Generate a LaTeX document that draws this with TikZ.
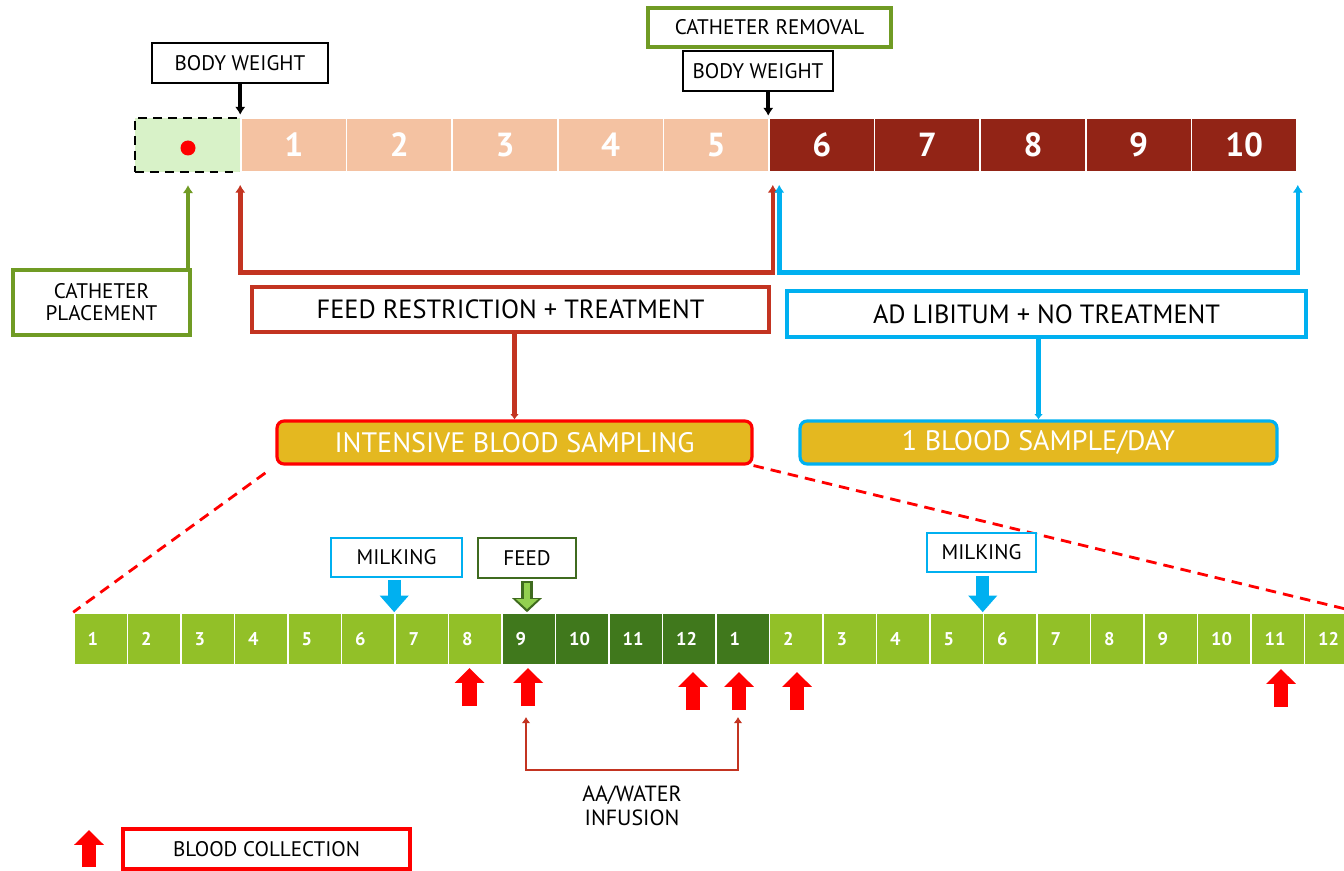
\documentclass[tikz,border=0pt]{standalone}
\usepackage{fontspec}
\setmainfont{PT Sans}
\usetikzlibrary{arrows.meta,positioning,calc}
\definecolor{peach}{RGB}{244,194,162}
\definecolor{maroon}{RGB}{146,36,22}
\definecolor{palegreen}{RGB}{216,242,200}
\definecolor{olive}{RGB}{112,155,36}
\definecolor{rust}{RGB}{195,52,33}
\definecolor{sky}{RGB}{0,176,240}
\definecolor{gold}{RGB}{228,184,32}
\definecolor{leaf}{RGB}{146,192,40}
\definecolor{forest}{RGB}{64,120,28}
\definecolor{feedgreen}{RGB}{146,208,80}
\definecolor{feededge}{RGB}{63,107,31}
\tikzset{
  cel/.style={draw=white,line width=0.9pt,minimum width=2.112cm,minimum height=1.08cm,
    inner sep=0,text=white,font=\fontsize{19}{19}\selectfont\bfseries},
  hr/.style={draw=white,line width=0.9pt,minimum width=1.07cm,minimum height=1.04cm,inner sep=0},
  num/.style={anchor=west,inner sep=0,text=white,font=\fontsize{10.5}{10.5}\selectfont\bfseries},
  lab/.style={draw,fill=white,inner sep=0,align=center,font=\fontsize{12}{12.5}\selectfont},
  big/.style={lab,line width=2.3pt,font=\fontsize{15}{17}\selectfont},
  samp/.style={draw,fill=gold,rounded corners=4pt,line width=1.8pt,inner sep=0,
    text=white,font=\fontsize{16}{18}\selectfont},
  brk/.style={line width=2.6pt,{Latex[length=4.5pt,width=6pt]}-{Latex[length=4.5pt,width=6pt]}},
  tip/.style={-{Latex[length=4.5pt,width=6pt]}},
  blk/.style={line width=8.5pt,-{Triangle[width=16.5pt,length=8.5pt]}},
  milkarr/.style={sky,line width=7.5pt,-{Triangle[width=16pt,length=9.5pt]}},
}
\begin{document}
\begin{tikzpicture}[x=0.02cm,y=-0.02cm]
  \useasboundingbox (0,0) rectangle (1344,871);
  \clip (0,0) rectangle (1344,871);
  % top timeline
  \node[draw,fill=palegreen,line width=1.3pt,dash pattern=on 5pt off 3.5pt,
    minimum width=2.12cm,minimum height=1.08cm] (t0) at (188,145) {};
  \node[circle,fill=red,inner sep=0,minimum size=0.3cm] (dot) at (188,148) {};
  \foreach \i in {1,...,5}
    \node[cel,fill=peach] (t\i) at ({241+(\i-0.5)*105.6},145) {\i};
  \foreach \i in {6,...,10}
    \node[cel,fill=maroon] (t\i) at ({241+(\i-0.5)*105.6},145) {\i};
  % labels above
  \node[lab,line width=1.5pt,minimum width=3.52cm,minimum height=0.8cm] (bw1) at (240,63) {BODY WEIGHT};
  \node[lab,draw=olive,line width=2pt,minimum width=4.86cm,minimum height=0.78cm] (crem) at (769.5,27.5) {CATHETER REMOVAL};
  \node[lab,line width=1.5pt,minimum width=3cm,minimum height=0.8cm] (bw2) at (758,71) {BODY WEIGHT};
  \draw[line width=2pt,tip] (t1.north west |- bw1.south) -- ([yshift=0.05cm]t1.north west);
  \draw[line width=2pt,tip] (t6.north west |- bw2.south) -- ([yshift=0.03cm]t6.north west);
  % periods
  \node[lab,draw=olive,line width=2pt,minimum width=3.54cm,minimum height=1.3cm] (cplace) at (101.5,302.5) {CATHETER\\PLACEMENT};
  \node[big,draw=rust,minimum width=10.34cm,minimum height=0.9cm] (feedr) at (510.5,309.5) {FEED RESTRICTION + TREATMENT};
  \node[big,draw=sky,minimum width=10.38cm,minimum height=0.92cm] (adlib) at (1046.5,314) {AD LIBITUM + NO TREATMENT};
  \coordinate (cp) at ([yshift=-0.24cm]t0.south);
  \coordinate (fr-a) at ([yshift=-0.24cm]t1.south west);
  \coordinate (fr-b) at ([yshift=-0.24cm,xshift=0.06cm]t5.south east);
  \coordinate (ad-a) at ([yshift=-0.24cm,xshift=0.22cm]t6.south west);
  \coordinate (ad-b) at ([yshift=-0.24cm]t10.south east);
  \draw[olive,line width=2.6pt,tip] (cplace.north -| cp) -- (cp);
  \draw[brk,rust] (fr-a) -- ++(0,88) -| (fr-b);
  \draw[brk,sky] (ad-a) -- ++(0,88) -| (ad-b);
  % sampling
  \node[samp,draw=red,minimum width=9.5cm,minimum height=0.86cm] (intens) at (514.5,442.5) {INTENSIVE BLOOD SAMPLING};
  \node[samp,draw=sky,minimum width=9.54cm,minimum height=0.86cm] (oneday) at (1038.5,442.5) {1 BLOOD SAMPLE/DAY};
  \draw[rust,line width=2.6pt,-{Latex[length=3pt,width=5pt]}] (intens.north |- feedr.south) -- (intens.north);
  \draw[sky,line width=2.6pt,-{Latex[length=3pt,width=5pt]}] (oneday.north |- adlib.south) -- (oneday.north);
  % hourly timeline
  \foreach \i in {1,...,24}{
    \pgfmathtruncatemacro{\h}{mod(\i-1,12)+1}
    \ifnum\i>8 \ifnum\i<14 \def\c{forest}\else\def\c{leaf}\fi\else\def\c{leaf}\fi
    \node[hr,fill=\c] (b\i) at ({74+(\i-0.5)*53.5},639) {};
    \node[num] at ([xshift=0.28cm]b\i.west) {\h};
  }
  \draw[red,line width=1.6pt,dash pattern=on 6pt off 4pt,shorten <=0.25cm] (intens.south west) -- (b1.north west);
  \draw[red,line width=1.6pt,dash pattern=on 6pt off 4pt] (intens.south east) -- (b24.north east);
  % events
  \node[lab,draw=sky,line width=1pt,minimum width=2.62cm,minimum height=0.78cm] (milk1) at (396.5,557.5) {MILKING};
  \node[lab,draw=feededge,line width=1pt,minimum width=1.96cm,minimum height=0.8cm] (feed) at (527,558) {FEED};
  \node[lab,draw=sky,line width=1pt,minimum width=2.18cm,minimum height=0.78cm] (milk2) at (981.5,552.5) {MILKING};
  \draw[milkarr] ([yshift=-0.04cm]b7.north west |- milk1.south) -- (b7.north west);
  \draw[milkarr] ([yshift=-0.06cm]b18.north west |- milk2.south) -- (b18.north west);
  \draw[feededge,line width=6.5pt,-{Triangle[width=16.5pt,length=8pt]}] ([yshift=-0.04cm]feed.south) -- (feed.south |- b9.north);
  \draw[feedgreen,line width=3.6pt,shorten <=1.2pt,shorten >=1.8pt,-{Triangle[width=12pt,length=5.6pt]}] ([yshift=-0.04cm]feed.south) -- (feed.south |- b9.north);
  % blood collection
  \foreach \x/\y in {469.5/668,528/668,693/672,739/672,797/672,1281/669}
    \draw[blk,red] (\x,\y+38) -- (\x,\y);
  \coordinate (inf-a) at (526,717);
  \coordinate (inf-b) at (738,717);
  \draw[rust,line width=1.6pt,{Latex[length=3.5pt,width=5pt]}-{Latex[length=3.5pt,width=5pt]}] (inf-a) -- ++(0,53) -| (inf-b);
  \node[align=center,font=\fontsize{12.5}{13.5}\selectfont] (inf) at (632,806) {AA/WATER\\INFUSION};
  % legend
  \draw[blk,red] (89,867) -- (89,830);
  \node[lab,draw=red,line width=1.8pt,minimum width=5.74cm,minimum height=0.8cm,font=\fontsize{12}{13}\selectfont] (bc) at (266.5,849) {BLOOD COLLECTION};
\end{tikzpicture}
\end{document}
